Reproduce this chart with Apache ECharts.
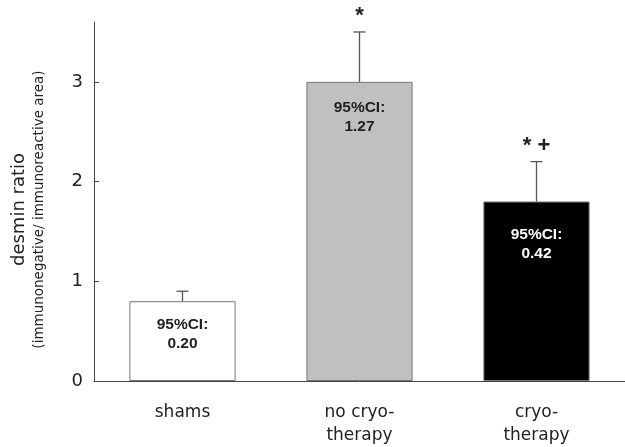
<!DOCTYPE html>
<html>
<head>
<meta charset="utf-8">
<script src="https://cdn.jsdelivr.net/npm/echarts@6/dist/echarts.min.js"></script>
<style>html,body{margin:0;padding:0;background:#fff}#c{width:625px;height:447px}</style>
</head>
<body>
<div id="c"></div>
<script>
const categories = ['shams', 'no cryo-\ntherapy', 'cryo-\ntherapy'];
const means = [0.8, 3.0, 1.8];
const errUpper = [0.9, 3.5, 2.2];
const ciValues = ['0.20', '1.27', '0.42'];
const marks = ['', '*', '* +'];
const yTicks = [0, 1, 2, 3];

const barColors = ['#ffffff', '#c0c0c0', '#000000'];
const labelColors = ['#222222', '#222222', '#ffffff'];
const labelDist = [14, 16, 24];

const chart = echarts.init(document.getElementById('c'));
const font = 'DejaVu Sans, sans-serif';
const boldFont = 'Liberation Sans, Arial, sans-serif';

chart.setOption({
  animation: false,
  backgroundColor: '#ffffff',
  grid: { left: 94, right: -5, top: 22, bottom: 65, containLabel: false },
  xAxis: {
    type: 'category',
    data: categories,
    axisLine: { lineStyle: { color: '#444', width: 1 } },
    axisTick: { show: false },
    axisLabel: { color: '#222', fontSize: 17, fontFamily: font, margin: 20, lineHeight: 23 }
  },
  yAxis: {
    type: 'value',
    min: 0, max: 3.6, interval: 1,
    name: '{a|desmin ratio}\n{b|(immunonegative/ immunoreactive area)}',
    nameLocation: 'middle',
    nameRotate: 90,
    nameGap: 46,
    nameTextStyle: {
      fontFamily: font,
      padding: [0, 16, 0, 0],
      rich: {
        a: { fontSize: 18, color: '#222', fontFamily: font, lineHeight: 22 },
        b: { fontSize: 13.5, color: '#222', fontFamily: font, lineHeight: 18 }
      }
    },
    splitLine: { show: false },
    axisLine: { show: true, lineStyle: { color: '#444', width: 1 } },
    axisTick: { show: true, inside: true, length: 5, customValues: yTicks, lineStyle: { color: '#444' } },
    axisLabel: { customValues: yTicks, color: '#222', fontSize: 18, fontFamily: font, margin: 11 }
  },
  series: [
    {
      type: 'bar',
      barWidth: '60%',
      data: means.map((v, i) => ({
        value: v,
        itemStyle: { color: barColors[i], borderColor: '#777', borderWidth: 1 },
        label: {
          show: true,
          position: 'insideTop',
          distance: labelDist[i],
          formatter: '95%CI:\n' + ciValues[i],
          color: labelColors[i],
          fontSize: 15.5,
          fontWeight: 'bold',
          fontFamily: boldFont,
          lineHeight: 19
        }
      })),
      z: 2
    },
    {
      type: 'custom',
      z: 3,
      data: means.map((v, i) => [i, v, errUpper[i]]),
      renderItem: function (params, api) {
        const i = api.value(0);
        const p0 = api.coord([i, api.value(1)]);
        const p1 = api.coord([i, api.value(2)]);
        const cap = 6;
        const st = { stroke: '#555', lineWidth: 1.3 };
        return {
          type: 'group',
          children: [
            { type: 'line', shape: { x1: p0[0], y1: p0[1], x2: p1[0], y2: p1[1] }, style: st },
            { type: 'line', shape: { x1: p1[0] - cap, y1: p1[1], x2: p1[0] + cap, y2: p1[1] }, style: st },
            { type: 'text', style: { text: marks[params.dataIndex], x: p1[0], y: p1[1] - 16, align: 'center', verticalAlign: 'middle', fontSize: 22, fontWeight: 'bold', fontFamily: boldFont, fill: '#222' } }
          ]
        };
      }
    }
  ]
});
</script>
</body>
</html>
